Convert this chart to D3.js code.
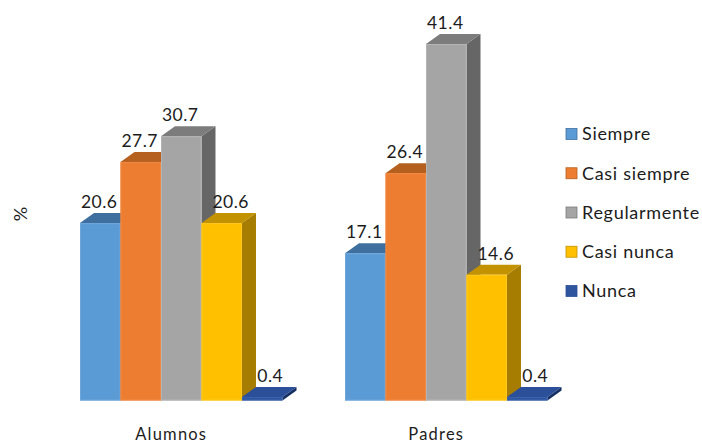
<!DOCTYPE html>
<html>
<head>
<meta charset="utf-8">
<script src="https://cdn.jsdelivr.net/npm/d3@7"></script>
<style>
  html, body { margin: 0; background: #fff; }
  svg { display: block; }
  text { font-family: Lato, "Open Sans", sans-serif; fill: #1c1c1c; }
</style>
</head>
<body>
<svg id="chart" width="702" height="443"></svg>
<script>
const groups = ["Alumnos", "Padres"];
const seriesNames = ["Siempre", "Casi siempre", "Regularmente", "Casi nunca", "Nunca"];
const alumnosValues = [20.6, 27.7, 30.7, 20.6, 0.4];
const padresValues = [17.1, 26.4, 41.4, 14.6, 0.4];
const yAxisLabel = "%";

const frontColors = ["#5b9bd5", "#ed7d31", "#a5a5a5", "#ffc000", "#2f559f"];
const topColors = ["#3f6f9e", "#b5601f", "#7c7c7c", "#c29200", "#2b4f98"];
const sideColors = ["#37628c", "#9c5219", "#666666", "#a67d00", "#173063"];
const edgeColors = ["#6ea6da", "#ef8a45", "#b4b4b4", "#ffc820", "#3a62ab"];

const valuesByGroup = { Alumnos: alumnosValues, Padres: padresValues };

const svg = d3.select("#chart");

// Plot geometry
const baseY = 400.5;
const depthX = 14;
const depthY = 10;

const x0 = d3.scaleBand().domain(groups).range([80, 547.5]).paddingInner(0.236).paddingOuter(0);
const x1 = d3.scaleBand().domain(seriesNames).range([0, x0.bandwidth()]);
const y = d3.scaleLinear().domain([0, 41.4]).range([baseY, 44]);

const rows = groups.flatMap(g =>
  seriesNames.map((s, i) => ({ group: g, series: s, index: i, value: valuesByGroup[g][i] }))
);

const bars = svg.append("g").selectAll("g").data(rows).join("g");

// Prism faces: side, top, then front
bars.append("path")
  .attr("fill", d => sideColors[d.index])
  .attr("d", d => {
    const r = x0(d.group) + x1(d.series) + x1.bandwidth();
    const t = y(d.value);
    return `M${r},${t}L${r + depthX},${t - depthY}L${r + depthX},${baseY - depthY}L${r},${baseY}Z`;
  });

bars.append("path")
  .attr("fill", d => topColors[d.index])
  .attr("d", d => {
    const l = x0(d.group) + x1(d.series);
    const r = l + x1.bandwidth();
    const t = y(d.value);
    return `M${l},${t}L${l + depthX},${t - depthY}L${r + depthX},${t - depthY}L${r},${t}Z`;
  });

bars.append("rect")
  .attr("x", d => x0(d.group) + x1(d.series))
  .attr("y", d => y(d.value))
  .attr("width", x1.bandwidth())
  .attr("height", d => baseY - y(d.value))
  .attr("fill", d => frontColors[d.index]);

bars.append("rect")
  .attr("x", d => x0(d.group) + x1(d.series) + 0.5)
  .attr("y", d => y(d.value) + 0.5)
  .attr("width", x1.bandwidth() - 1)
  .attr("height", d => Math.max(0, baseY - y(d.value) - 1))
  .attr("fill", "none")
  .attr("stroke", d => edgeColors[d.index])
  .attr("stroke-width", 1);

// Value labels; the shorter right-hand bars carry theirs over the depth face
const labelShift = [-1, -1, -1, 9, 8];
svg.append("g").selectAll("text").data(rows).join("text")
  .attr("x", d => x0(d.group) + x1(d.series) + x1.bandwidth() / 2 + labelShift[d.index])
  .attr("y", d => y(d.value) - 15)
  .attr("text-anchor", "middle")
  .attr("font-size", 17.5)
  .attr("letter-spacing", 0.5)
  .text(d => d.value.toFixed(1));

// Category labels, centred under the front faces of each cluster
const categoryAxis = d3.axisBottom(x0).tickSize(0).tickPadding(0);
const axisG = svg.append("g").attr("transform", "translate(-10,425)").call(categoryAxis);
axisG.select(".domain").remove();
axisG.selectAll("text")
  .attr("font-size", 16.5)
  .attr("letter-spacing", 1.2)
  .attr("dy", "0.9em")
  .style("font-family", "Lato, 'Open Sans', sans-serif");

// Vertical axis title
svg.append("text")
  .attr("transform", "translate(27,214) rotate(-90)")
  .attr("text-anchor", "middle")
  .attr("font-size", 18)
  .text(yAxisLabel);

// Legend
const legendY = d3.scalePoint().domain(seriesNames).range([134, 291]);
const legend = svg.append("g").selectAll("g").data(seriesNames).join("g")
  .attr("transform", d => `translate(566,${legendY(d)})`);
legend.append("rect")
  .attr("x", 0).attr("y", -5.5).attr("width", 11).attr("height", 11)
  .attr("fill", (d, i) => frontColors[i])
  .attr("stroke", (d, i) => topColors[i])
  .attr("stroke-width", 0.8);
legend.append("text")
  .attr("x", 16).attr("y", 0).attr("dy", "0.35em")
  .attr("font-size", 18)
  .attr("letter-spacing", 0.7)
  .text(d => d);
</script>
</body>
</html>
